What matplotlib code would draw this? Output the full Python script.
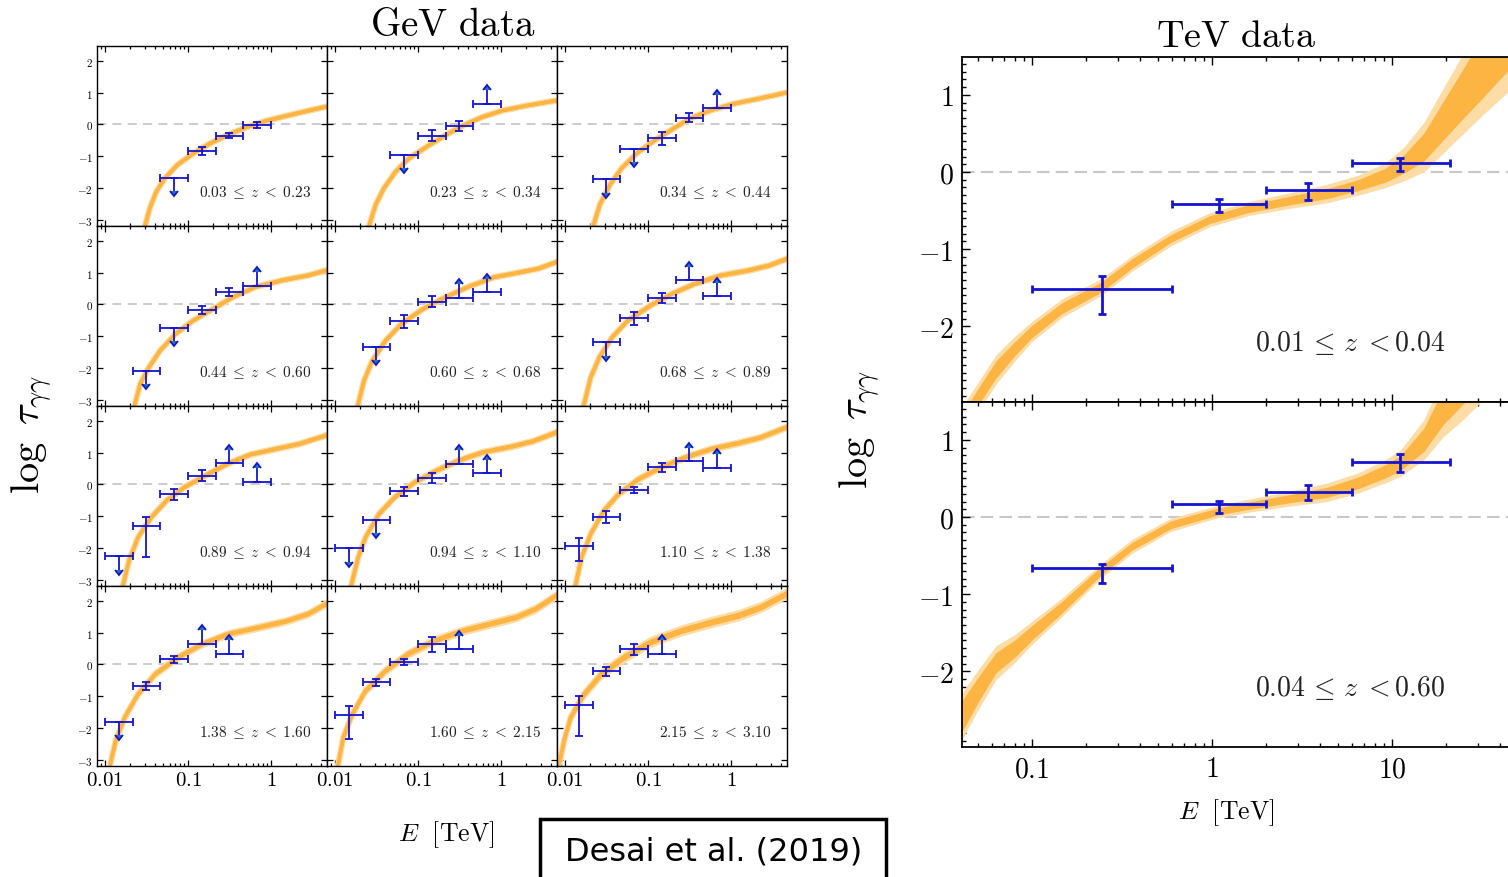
import numpy as np
import matplotlib.pyplot as plt
from matplotlib.ticker import FixedLocator, FixedFormatter, LogLocator, NullFormatter, MultipleLocator
from matplotlib.patches import Rectangle

plt.rcParams['mathtext.fontset'] = 'cm'
plt.rcParams['font.family'] = 'serif'
plt.rcParams['font.serif'] = ['DejaVu Serif']

# ---------------- GeV panels (Fermi-LAT) ----------------
# energy bin edges, log10(E/TeV)
gev_edges_loge = [-2.0, -1.667, -1.333, -1.0, -0.667, -0.333, 0.0]

gev_zlo = ['0.03', '0.23', '0.34', '0.44', '0.60', '0.68', '0.89', '0.94', '1.10', '1.38', '1.60', '2.15']
gev_zhi = ['0.23', '0.34', '0.44', '0.60', '0.68', '0.89', '0.94', '1.10', '1.38', '1.60', '2.15', '3.10']

# which energy bins carry a measurement in each redshift slice
gev_bins = [[2, 3, 4, 5], [2, 3, 4, 5], [1, 2, 3, 4, 5],
            [1, 2, 3, 4, 5], [1, 2, 3, 4, 5], [1, 2, 3, 4, 5],
            [0, 1, 2, 3, 4, 5], [0, 1, 2, 3, 4, 5], [0, 1, 2, 3, 4, 5],
            [0, 1, 2, 3, 4], [0, 1, 2, 3, 4], [0, 1, 2, 3]]
# p = measurement, u = upper limit, l = lower limit
gev_kind = ['uppp', 'uppl', 'uuppl',
            'uuppl', 'uppll', 'uppll',
            'upppll', 'uuppll', 'ppppll',
            'uppll', 'ppppl', 'pppl']
gev_vals = [[-1.68, -0.83, -0.35, -0.02], [-0.95, -0.35, -0.05, 0.65], [-1.73, -0.77, -0.44, 0.21, 0.52],
            [-2.10, -0.74, -0.17, 0.40, 0.59], [-1.33, -0.51, 0.08, 0.21, 0.39], [-1.19, -0.43, 0.19, 0.76, 0.26],
            [-2.27, -1.30, -0.29, 0.28, 0.67, 0.09], [-2.01, -1.12, -0.22, 0.21, 0.65, 0.35],
            [-1.94, -1.03, -0.17, 0.54, 0.74, 0.53],
            [-1.80, -0.68, 0.16, 0.65, 0.34], [-1.60, -0.56, 0.08, 0.63, 0.49], [-1.29, -0.22, 0.47, 0.34]]
gev_err_lo = [[0, 0.12, 0.08, 0.10], [0, 0.16, 0.15, 0], [0, 0, 0.20, 0.14, 0],
              [0, 0, 0.13, 0.12, 0], [0, 0.22, 0.17, 0, 0], [0, 0.22, 0.16, 0, 0],
              [0, 1.00, 0.19, 0.16, 0, 0], [0, 0, 0.14, 0.16, 0, 0], [0.46, 0.20, 0.09, 0.15, 0, 0],
              [0, 0.13, 0.12, 0, 0], [0.75, 0.11, 0.10, 0.23, 0], [0.97, 0.15, 0.18, 0]]
gev_err_hi = [[0, 0.12, 0.08, 0.10], [0, 0.16, 0.15, 0], [0, 0, 0.20, 0.14, 0],
              [0, 0, 0.13, 0.12, 0], [0, 0.19, 0.17, 0, 0], [0, 0.18, 0.16, 0, 0],
              [0, 0.27, 0.16, 0.16, 0, 0], [0, 0, 0.14, 0.16, 0, 0], [0.24, 0.20, 0.09, 0.15, 0, 0],
              [0, 0.13, 0.12, 0, 0], [0.28, 0.11, 0.10, 0.23, 0], [0.30, 0.15, 0.18, 0]]

# model band centre, log10(E/TeV) vs log tau
gev_curve_loge = [
    [-1.55, -1.518, -1.46, -1.38, -1.28, -1.13, -0.94, -0.735, -0.53, -0.29, -0.05, 0.23, 0.51, 0.70],
    [-1.62, -1.59, -1.51, -1.41, -1.27, -1.11, -0.87, -0.67, -0.47, -0.23, 0.02, 0.30, 0.70],
    [-1.69, -1.66, -1.58, -1.46, -1.32, -1.14, -0.92, -0.70, -0.50, -0.25, 0.03, 0.31, 0.70],
    [-1.67, -1.64, -1.575, -1.47, -1.335, -1.15, -0.94, -0.70, -0.46, -0.19, 0.13, 0.45, 0.70],
    [-1.75, -1.72, -1.65, -1.55, -1.39, -1.20, -0.94, -0.67, -0.40, -0.085, 0.18, 0.45, 0.70],
    [-1.80, -1.77, -1.69, -1.585, -1.43, -1.24, -0.97, -0.71, -0.44, -0.12, 0.20, 0.46, 0.70],
    [-1.81, -1.78, -1.71, -1.60, -1.44, -1.255, -1.04, -0.75, -0.51, -0.245, 0.07, 0.34, 0.70],
    [-1.83, -1.80, -1.72, -1.63, -1.47, -1.28, -1.04, -0.78, -0.51, -0.22, 0.13, 0.39, 0.70],
    [-1.90, -1.87, -1.80, -1.69, -1.53, -1.35, -1.11, -0.84, -0.55, -0.23, 0.09, 0.36, 0.70],
    [-1.97, -1.94, -1.87, -1.76, -1.60, -1.39, -1.12, -0.83, -0.51, -0.14, 0.18, 0.45, 0.70],
    [-1.99, -1.96, -1.90, -1.79, -1.63, -1.39, -1.12, -0.80, -0.46, -0.14, 0.18, 0.42, 0.70],
    [-2.10, -2.06, -2.01, -1.93, -1.77, -1.56, -1.29, -0.97, -0.60, -0.23, 0.09, 0.36, 0.70]]
gev_curve_tau = [
    [-3.40, -3.20, -2.64, -2.11, -1.70, -1.28, -0.92, -0.60, -0.34, -0.08, 0.12, 0.30, 0.47, 0.58],
    [-3.45, -3.20, -2.53, -2.01, -1.49, -1.07, -0.66, -0.34, -0.05, 0.23, 0.44, 0.59, 0.77],
    [-3.45, -3.20, -2.53, -1.91, -1.39, -0.92, -0.50, -0.14, 0.18, 0.44, 0.65, 0.80, 1.02],
    [-3.45, -3.14, -2.50, -1.98, -1.45, -0.93, -0.51, -0.14, 0.23, 0.55, 0.76, 0.92, 1.10],
    [-3.45, -3.14, -2.40, -1.77, -1.14, -0.61, -0.14, 0.23, 0.55, 0.86, 0.99, 1.13, 1.37],
    [-3.45, -3.14, -2.30, -1.66, -1.03, -0.50, -0.03, 0.34, 0.65, 0.92, 1.07, 1.23, 1.47],
    [-3.45, -3.14, -2.40, -1.66, -1.03, -0.50, -0.08, 0.34, 0.67, 0.95, 1.13, 1.28, 1.58],
    [-3.45, -3.14, -2.30, -1.66, -0.93, -0.40, 0.07, 0.44, 0.76, 1.02, 1.20, 1.37, 1.68],
    [-3.45, -3.14, -2.30, -1.56, -0.82, -0.29, 0.18, 0.55, 0.86, 1.13, 1.31, 1.49, 1.84],
    [-3.50, -3.19, -2.40, -1.66, -0.93, -0.29, 0.23, 0.65, 0.97, 1.18, 1.37, 1.60, 1.97],
    [-3.45, -3.14, -2.30, -1.56, -0.82, -0.19, 0.34, 0.76, 1.07, 1.28, 1.49, 1.76, 2.24],
    [-3.30, -3.03, -2.40, -1.66, -0.93, -0.29, 0.23, 0.71, 1.07, 1.34, 1.55, 1.81, 2.28]]
gev_band_hw = [0.08, 0.08, 0.08, 0.09, 0.09, 0.10, 0.10, 0.11, 0.12, 0.13, 0.15, 0.18]

# ---------------- TeV panels (IACT) ----------------
tev_edges = [0.1, 0.6, 2.0, 6.0, 21.0]
tev_centers = [0.245, 1.09, 3.43, 11.1]
tev_zlabels = [('0.01', '0.04'), ('0.04', '0.60')]
tev_vals = [[-1.51, -0.42, -0.237, 0.116], [-0.66, 0.164, 0.33, 0.716]]
tev_err_lo = [[0.33, 0.10, 0.12, 0.10], [0.19, 0.11, 0.11, 0.13]]
tev_err_hi = [[0.16, 0.065, 0.10, 0.07], [0.05, 0.04, 0.08, 0.10]]

tev_top_loge = [-1.40, -1.309, -1.201, -1.093, -1.0, -0.834, -0.617, -0.444, -0.228, -0.012, 0.204,
                0.421, 0.637, 0.81, 0.961, 1.069, 1.177, 1.285, 1.394, 1.502, 1.65, 1.75]
tev_top_tau = [-3.30, -2.949, -2.561, -2.282, -2.066, -1.765, -1.494, -1.184, -0.861, -0.616, -0.474,
               -0.375, -0.28, -0.172, -0.043, 0.108, 0.323, 0.667, 1.012, 1.356, 1.83, 2.15]
tev_top_outer = [0.22, 0.19, 0.19, 0.16, 0.13, 0.12, 0.11, 0.10, 0.095, 0.09, 0.09,
                 0.10, 0.12, 0.13, 0.16, 0.22, 0.32, 0.42, 0.52, 0.62, 0.78, 0.88]
tev_top_inner = [0.12, 0.11, 0.11, 0.09, 0.08, 0.07, 0.065, 0.06, 0.05, 0.05, 0.05,
                 0.055, 0.065, 0.07, 0.09, 0.12, 0.18, 0.25, 0.32, 0.40, 0.50, 0.56]

tev_bot_loge = [-1.45, -1.389, -1.30, -1.201, -1.093, -1.0, -0.834, -0.617, -0.444, -0.228, 0.036,
                0.204, 0.421, 0.637, 0.81, 0.961, 1.047, 1.177, 1.285, 1.394, 1.55]
tev_bot_tau = [-2.85, -2.58, -2.24, -1.89, -1.70, -1.50, -1.17, -0.70, -0.379, -0.10, 0.073,
               0.147, 0.233, 0.319, 0.44, 0.59, 0.698, 1.0, 1.43, 1.78, 2.30]
tev_bot_outer = [0.32, 0.30, 0.26, 0.22, 0.18, 0.15, 0.12, 0.095, 0.09, 0.085, 0.08,
                 0.085, 0.095, 0.12, 0.13, 0.15, 0.17, 0.26, 0.39, 0.52, 0.68]
tev_bot_inner = [0.22, 0.20, 0.16, 0.13, 0.11, 0.095, 0.075, 0.056, 0.05, 0.05, 0.045,
                 0.048, 0.052, 0.065, 0.075, 0.085, 0.095, 0.15, 0.23, 0.32, 0.42]

BLUE = '#1414d2'
ORANGE_DARK = '#fcb443'
ORANGE_LIGHT = '#fedca6'
ZERO_GREY = '#c8c8c8'

W, H = 1508, 878
fig = plt.figure(figsize=(W / 100, H / 100), dpi=100)


def box(x0, y0, x1, y1):
    return [x0 / W, 1 - y1 / H, (x1 - x0) / W, (y1 - y0) / H]


# ---- GeV grid ----
edges = 10 ** np.array(gev_edges_loge)
for i in range(12):
    r, c = divmod(i, 3)
    ax = fig.add_axes(box(97 + 230 * c, 47 + 180 * r, 97 + 230 * (c + 1), 47 + 180 * (r + 1)))
    ax.set_xscale('log')
    ax.set_xlim(10 ** -2.096, 10 ** 0.675)
    ax.set_ylim(-3.2, 2.47)
    ax.axhline(0, color=ZERO_GREY, lw=1.3, ls=(0, (5, 3.5)), zorder=1)

    xe = 10 ** np.array(gev_curve_loge[i])
    te = np.array(gev_curve_tau[i])
    hw = gev_band_hw[i]
    ax.plot(xe, te, color=ORANGE_LIGHT, lw=4.6, solid_capstyle='butt', zorder=2)
    ax.fill_between(xe, te - hw, te + hw, color=ORANGE_LIGHT, lw=0, zorder=2)
    ax.plot(xe, te, color=ORANGE_DARK, lw=2.8, solid_capstyle='butt', zorder=2.1)
    ax.fill_between(xe, te - 0.55 * hw, te + 0.55 * hw, color=ORANGE_DARK, lw=0, zorder=2.1)

    b = np.array(gev_bins[i])
    lo, hi = edges[b], edges[b + 1]
    xc = np.sqrt(lo * hi)
    kinds = np.array(list(gev_kind[i]))
    up = kinds == 'u'
    low = kinds == 'l'
    elo = np.where(kinds == 'p', gev_err_lo[i], 0.42)
    ehi = np.where(kinds == 'p', gev_err_hi[i], 0.42)
    ax.errorbar(xc, gev_vals[i], xerr=[xc - lo, hi - xc], yerr=[elo, ehi],
                uplims=up, lolims=low, fmt='none', ecolor=BLUE, elinewidth=1.3,
                capsize=2.6, capthick=1.3, zorder=3)

    ax.text(0.93, 0.19, r'$%s\;\leq\;z\;<\;%s$' % (gev_zlo[i], gev_zhi[i]), transform=ax.transAxes,
            ha='right', va='center', fontsize=11, color='#222222')

    ax.xaxis.set_major_locator(FixedLocator([0.01, 0.1, 1]))
    ax.xaxis.set_major_formatter(FixedFormatter(['$0.01$', '$0.1$', '$1$']))
    ax.xaxis.set_minor_locator(LogLocator(base=10, subs=np.arange(2, 10)))
    ax.xaxis.set_minor_formatter(NullFormatter())
    ax.yaxis.set_major_locator(FixedLocator([-3, -2, -1, 0, 1, 2]))
    ax.yaxis.set_major_formatter(FixedFormatter(['$-3$', '$-2$', '$-1$', '$0$', '$1$', '$2$']))
    ax.tick_params(which='both', direction='in', top=True, right=True, width=0.9)
    ax.tick_params(which='major', length=4.5)
    ax.tick_params(which='minor', length=2.2)
    ax.tick_params(axis='x', labelsize=15, pad=3)
    ax.tick_params(axis='y', labelsize=8, pad=3)
    ax.tick_params(labelbottom=(r == 3), labelleft=(c == 0))
    for s in ax.spines.values():
        s.set_linewidth(1.0)

# ---- TeV panels ----
tev_bands = [(tev_top_loge, tev_top_tau, tev_top_outer, tev_top_inner),
             (tev_bot_loge, tev_bot_tau, tev_bot_outer, tev_bot_inner)]
tev_e = np.array(tev_edges)
tev_c = np.array(tev_centers)
for k in range(2):
    ax = fig.add_axes(box(962, 58 + 345 * k, 1520, 403 + 345 * k))
    ax.set_xscale('log')
    ax.set_xlim(10 ** -1.389, 10 ** (-1.389 + 558 / 180))
    ax.set_ylim(-2.98, 1.49)
    ax.axhline(0, color=ZERO_GREY, lw=1.5, ls=(0, (6, 3)), zorder=1)

    le, tau, outer, inner = (np.array(a) for a in tev_bands[k])
    xe = 10 ** le
    ax.fill_between(xe, tau - outer, tau + outer, color=ORANGE_LIGHT, lw=0, zorder=2)
    ax.fill_between(xe, tau - inner, tau + inner, color=ORANGE_DARK, lw=0, zorder=2.1)

    ax.errorbar(tev_c, tev_vals[k], xerr=[tev_c - tev_e[:-1], tev_e[1:] - tev_c],
                yerr=[tev_err_lo[k], tev_err_hi[k]], fmt='none', ecolor=BLUE,
                elinewidth=2.0, capsize=3.2, capthick=2.0, zorder=3)

    zl, zh = tev_zlabels[k]
    ax.text(0.866, 0.175, r'$%s\,\leq\,z\;{<}%s$' % (zl, zh), transform=ax.transAxes,
            ha='right', va='center', fontsize=20, color='#222222')

    ax.xaxis.set_major_locator(FixedLocator([0.1, 1, 10]))
    ax.xaxis.set_major_formatter(FixedFormatter(['$0.1$', '$1$', '$10$']))
    ax.xaxis.set_minor_locator(LogLocator(base=10, subs=np.arange(2, 10)))
    ax.xaxis.set_minor_formatter(NullFormatter())
    ax.yaxis.set_major_locator(FixedLocator([-2, -1, 0, 1]))
    ax.yaxis.set_major_formatter(FixedFormatter(['$-2$', '$-1$', '$0$', '$1$']))
    ax.yaxis.set_minor_locator(MultipleLocator(0.1))
    ax.tick_params(which='both', direction='in', top=True, right=True, width=1.0)
    ax.tick_params(which='major', length=6)
    ax.tick_params(which='minor', length=3)
    ax.tick_params(labelsize=20, pad=6)
    ax.tick_params(labelbottom=(k == 1))
    for s in ax.spines.values():
        s.set_linewidth(1.3)

# ---- figure-level labels ----
fig.text(453 / W, 1 - 25 / H, r'$\mathrm{GeV\ data}$', ha='center', va='center', fontsize=28)
fig.text(1236 / W, 1 - 37 / H, r'$\mathrm{TeV\ data}$', ha='center', va='center', fontsize=27.5)
fig.text(32 / W, 1 - 435 / H, r'$\log\ \tau_{\gamma\gamma}$', rotation=90, ha='center', va='center', fontsize=29)
fig.text(860 / W, 1 - 430 / H, r'$\log\ \tau_{\gamma\gamma}$', rotation=90, ha='center', va='center', fontsize=29)
fig.text(446 / W, 1 - 835 / H, r'$E\ \ [\mathrm{TeV}]$', ha='center', va='center', fontsize=18.5)
fig.text(1226 / W, 1 - 813 / H, r'$E\ \ [\mathrm{TeV}]$', ha='center', va='center', fontsize=18.5)

fig.patches.append(Rectangle((540 / W, 1 - 895 / H), 346 / W, 75 / H, transform=fig.transFigure,
                             fill=False, lw=2.5, ec='black'))
fig.text(714 / W, 1 - 852 / H, 'Desai et al. (2019)', ha='center', va='center',
         fontsize=23, family='DejaVu Sans')

fig.savefig('out.png', dpi=100)
